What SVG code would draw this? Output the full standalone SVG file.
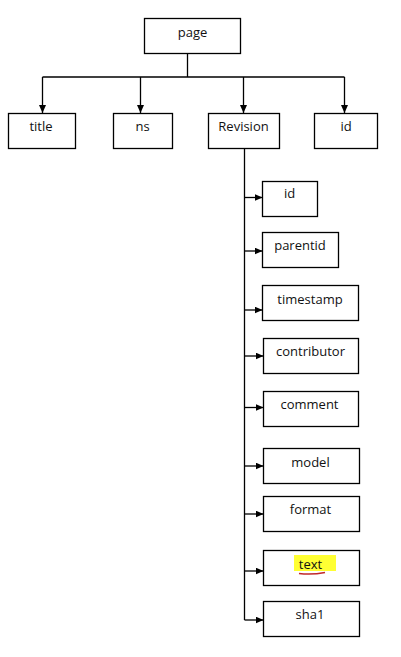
<svg xmlns="http://www.w3.org/2000/svg" width="401" height="657" viewBox="0 0 401 657">
<style>
.box{fill:#fff;stroke:#000;stroke-width:1.3}
.lbl{font-family:"Open Sans","Liberation Sans",Arial,sans-serif;font-size:13px;fill:#111;text-anchor:middle}
.con{stroke:#000;stroke-width:1.3;fill:none}
</style>
<defs>
<marker id="arr" markerUnits="userSpaceOnUse" markerWidth="9" markerHeight="8" refX="8" refY="3.5" orient="auto">
<path d="M0,0 L8,3.5 L0,7 z" fill="#000"/>
</marker>
</defs>
<rect width="401" height="657" fill="#fff"/>
<g id="connectors">
<line class="con" x1="187.5" y1="53" x2="187.5" y2="77"/>
<line class="con" x1="42.5" y1="77" x2="344.5" y2="77"/>
<line class="con" x1="42.5" y1="77" x2="42.5" y2="113" marker-end="url(#arr)"/>
<line class="con" x1="140.5" y1="77" x2="140.5" y2="113" marker-end="url(#arr)"/>
<line class="con" x1="243.5" y1="77" x2="243.5" y2="113" marker-end="url(#arr)"/>
<line class="con" x1="344.5" y1="77" x2="344.5" y2="113" marker-end="url(#arr)"/>
<line class="con" x1="244.5" y1="148" x2="244.5" y2="620"/>
<line class="con" x1="244.5" y1="197.5" x2="262.5" y2="197.5" marker-end="url(#arr)"/>
<line class="con" x1="244.5" y1="251" x2="262.5" y2="251" marker-end="url(#arr)"/>
<line class="con" x1="244.5" y1="310" x2="262.5" y2="310" marker-end="url(#arr)"/>
<line class="con" x1="244.5" y1="356" x2="263.5" y2="356" marker-end="url(#arr)"/>
<line class="con" x1="244.5" y1="407.5" x2="263.5" y2="407.5" marker-end="url(#arr)"/>
<line class="con" x1="244.5" y1="466" x2="263.5" y2="466" marker-end="url(#arr)"/>
<line class="con" x1="244.5" y1="514" x2="263.5" y2="514" marker-end="url(#arr)"/>
<line class="con" x1="244.5" y1="571" x2="263.5" y2="571" marker-end="url(#arr)"/>
<line class="con" x1="244.5" y1="620" x2="263.5" y2="620" marker-end="url(#arr)"/>
</g>
<g id="node-page"><rect class="box" x="144.5" y="18.5" width="96" height="35"/><text class="lbl" x="192.5" y="37">page</text></g>
<g id="node-title"><rect class="box" x="8.5" y="113.5" width="67" height="35"/><text class="lbl" x="41" y="131">title</text></g>
<g id="node-ns"><rect class="box" x="113.5" y="113.5" width="59" height="35"/><text class="lbl" x="142.5" y="131">ns</text></g>
<g id="node-revision"><rect class="box" x="208.5" y="113.5" width="71" height="35"/><text class="lbl" x="243.5" y="131">Revision</text></g>
<g id="node-id"><rect class="box" x="314.5" y="113.5" width="63" height="35"/><text class="lbl" x="346" y="131">id</text></g>
<g id="node-rev-id"><rect class="box" x="262.5" y="181.5" width="55" height="35"/><text class="lbl" x="289.5" y="198">id</text></g>
<g id="node-parentid"><rect class="box" x="262.5" y="232.5" width="76" height="35"/><text class="lbl" x="300" y="250">parentid</text></g>
<g id="node-timestamp"><rect class="box" x="262.5" y="285.5" width="96" height="35"/><text class="lbl" x="310" y="303.5">timestamp</text></g>
<g id="node-contributor"><rect class="box" x="263.5" y="338.5" width="95" height="35"/><text class="lbl" x="310.5" y="356">contributor</text></g>
<g id="node-comment"><rect class="box" x="263.5" y="391.5" width="95" height="35"/><text class="lbl" x="309.5" y="409">comment</text></g>
<g id="node-model"><rect class="box" x="263.5" y="448.5" width="96" height="35"/><text class="lbl" x="310.5" y="466.5">model</text></g>
<g id="node-format"><rect class="box" x="263.5" y="496.5" width="96" height="35"/><text class="lbl" x="310.5" y="514">format</text></g>
<g id="node-text"><rect class="box" x="263.5" y="550.5" width="96" height="35"/>
<rect x="294" y="555" width="42" height="16" fill="#ffff33"/>
<path d="M299,573.5 Q312,575 325,572.5" stroke="#c0282a" stroke-width="1.6" fill="none"/>
<text class="lbl" x="310.5" y="568.5">text</text></g>
<g id="node-sha1"><rect class="box" x="263.5" y="601.5" width="96" height="35"/><text class="lbl" x="310" y="618.5">sha1</text></g>
</svg>
